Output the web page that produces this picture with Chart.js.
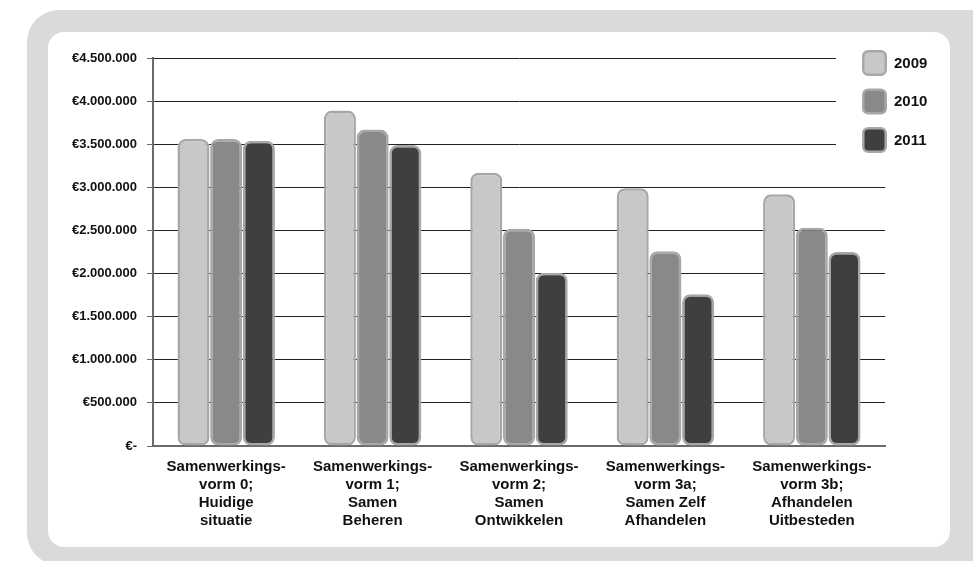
<!DOCTYPE html>
<html>
<head>
<meta charset="utf-8">
<script src="https://cdn.jsdelivr.net/npm/chart.js@4.4.1/dist/chart.umd.min.js"></script>
<style>
  html, body { margin: 0; padding: 0; background: #ffffff; width: 973px; height: 561px; overflow: hidden; }
  .frame { position: absolute; left: 27px; top: 10px; width: 1000px; height: 555px; background: #d9dadc; border-radius: 32px; }
  .panel { position: absolute; left: 48px; top: 32px; width: 902px; height: 515px; background: #ffffff; border-radius: 16px; }
  .chart-box { position: absolute; left: 48px; top: 32px; width: 902px; height: 515px; }
</style>
</head>
<body>
<div class="frame"></div>
<div class="panel"></div>
<div class="chart-box"><canvas id="c"></canvas></div>
<script>
// Cost per form of cooperation, per year (euro)
const categories = [
  ['Samenwerkings-', 'vorm 0;', 'Huidige', 'situatie'],
  ['Samenwerkings-', 'vorm 1;', 'Samen', 'Beheren'],
  ['Samenwerkings-', 'vorm 2;', 'Samen', 'Ontwikkelen'],
  ['Samenwerkings-', 'vorm 3a;', 'Samen Zelf', 'Afhandelen'],
  ['Samenwerkings-', 'vorm 3b;', 'Afhandelen', 'Uitbesteden']
];
const years = ['2009', '2010', '2011'];
const values2009 = [3560000, 3890000, 3170000, 2990000, 2920000];
const values2010 = [3560000, 3670000, 2520000, 2260000, 2530000];
const values2011 = [3540000, 3490000, 2010000, 1760000, 2250000];
const yTicks = [0, 500000, 1000000, 1500000, 2000000, 2500000, 3000000, 3500000, 4000000, 4500000];

const fills = ['#c7c8ca', '#89898b', '#3f3f41'];
const edge = '#a6a7a9';

function euro(v) {
  if (v === 0) return '€-';
  return '€' + String(Math.round(v)).replace(/\B(?=(\d{3})+(?!\d))/g, '.');
}

// Legend drawn inside the plot, on a white patch that hides the grid behind it
const insetLegend = {
  id: 'insetLegend',
  beforeDatasetsDraw(chart) {
    const ctx = chart.ctx, a = chart.chartArea;
    ctx.save();
    ctx.fillStyle = '#ffffff';
    ctx.fillRect(788, 0, a.right - 788 + 2, 135);
    ctx.restore();
  },
  afterDraw(chart) {
    const ctx = chart.ctx;
    ctx.save();
    chart.data.datasets.forEach((ds, i) => {
      const x = 814, y = 18 + i * 38.5, w = 25, h = 26;
      ctx.beginPath();
      ctx.roundRect(x + 1.25, y + 1.25, w - 2.5, h - 2.5, 5);
      ctx.fillStyle = ds.backgroundColor;
      ctx.fill();
      ctx.lineWidth = 2.5;
      ctx.strokeStyle = edge;
      ctx.stroke();
      ctx.fillStyle = '#111111';
      ctx.font = 'bold 15px "Liberation Sans", Arial, sans-serif';
      ctx.textBaseline = 'middle';
      ctx.textAlign = 'left';
      ctx.fillText(ds.label, 846, y + h / 2 + 0.5);
    });
    ctx.restore();
  }
};

const seriesValues = [values2009, values2010, values2011];

new Chart(document.getElementById('c'), {
  type: 'bar',
  data: {
    labels: categories,
    datasets: years.map((y, i) => ({
      label: y,
      data: seriesValues[i],
      backgroundColor: fills[i],
      borderColor: edge,
      borderWidth: 2.5,
      borderRadius: 8,
      borderSkipped: false,
      categoryPercentage: 0.67,
      barPercentage: 0.98
    }))
  },
  options: {
    responsive: true,
    maintainAspectRatio: false,
    animation: false,
    devicePixelRatio: 1,
    layout: { padding: { top: 26, right: 65, bottom: 0, left: 0 } },
    plugins: { legend: { display: false }, tooltip: { enabled: false } },
    scales: {
      x: {
        grid: { display: false, drawTicks: false },
        border: { display: true, color: '#6a6a6a', width: 2 },
        ticks: {
          color: '#111111',
          padding: 12,
          maxRotation: 0,
          autoSkip: false,
          font: { family: '"Liberation Sans", Arial, sans-serif', size: 15, weight: 'bold', lineHeight: 1.2 }
        },
        afterFit(scale) { scale.height = 101; }
      },
      y: {
        min: 0,
        max: 4500000,
        afterBuildTicks(scale) { scale.ticks = yTicks.map(v => ({ value: v })); },
        grid: { color: '#222222', lineWidth: 1, drawTicks: true, tickLength: 6, tickColor: '#6a6a6a' },
        border: { display: true, color: '#6a6a6a', width: 2 },
        ticks: {
          color: '#111111',
          padding: 10,
          callback: v => euro(v),
          font: { family: '"Liberation Sans", Arial, sans-serif', size: 13, weight: 'bold' }
        },
        afterFit(scale) { scale.width = 105; }
      }
    }
  },
  plugins: [insetLegend]
});
</script>
</body>
</html>
